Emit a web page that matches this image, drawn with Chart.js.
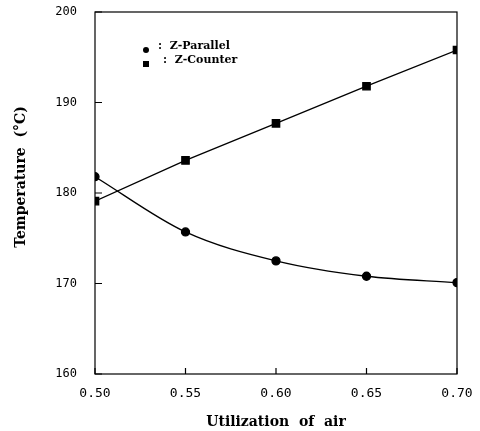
<!DOCTYPE html>
<html>
<head>
<meta charset="utf-8">
<script src="https://cdn.jsdelivr.net/npm/chart.js@4.4.0/dist/chart.umd.min.js"></script>
<style>
  html, body { margin: 0; padding: 0; background: #fff; }
  #wrap { width: 480px; height: 431px; position: relative; }
</style>
</head>
<body>
<div id="wrap"><canvas id="myChart"></canvas></div>
<script>
// Utilization of air (x) and temperature readings (y)
const utilization = [0.50, 0.55, 0.60, 0.65, 0.70];
const zParallel = [181.8, 175.7, 172.5, 170.8, 170.1];
const zCounter = [179.1, 183.6, 187.7, 191.8, 195.8];
const seriesNames = ['Z-Parallel', 'Z-Counter'];
const yTitle = 'Temperature  (°C)';

const monoFont = "'DejaVu Sans Mono', monospace";
const serifFont = "'DejaVu Serif', serif";

function toPoints(values) {
    return utilization.map((u, i) => ({ x: u, y: values[i] }));
}

// draws the little inward tick marks, the box, the y title and the legend
const framePlugin = {
    id: 'frame',
    afterDraw(chart) {
        const ctx = chart.ctx;
        const area = chart.chartArea;
        const xs = chart.scales.x;
        const ys = chart.scales.y;
        ctx.save();
        ctx.strokeStyle = '#000';
        ctx.lineWidth = 1.2;
        ctx.strokeRect(area.left, area.top, area.right - area.left, area.bottom - area.top);

        ctx.beginPath();
        xs.ticks.forEach(t => {
            const px = xs.getPixelForValue(t.value);
            ctx.moveTo(px, area.bottom);
            ctx.lineTo(px, area.bottom - 6);
        });
        ys.ticks.forEach(t => {
            const py = ys.getPixelForValue(t.value);
            ctx.moveTo(area.left, py);
            ctx.lineTo(area.left + 7, py);
        });
        ctx.stroke();

        // y axis title, sitting a little above the middle like the original
        ctx.fillStyle = '#000';
        ctx.save();
        ctx.translate(21, (area.top + area.bottom) / 2 - 16);
        ctx.rotate(-Math.PI / 2);
        ctx.font = "bold 14px " + serifFont;
        ctx.textAlign = 'center';
        ctx.textBaseline = 'middle';
        ctx.fillText(yTitle, 0, 0);
        ctx.restore();

        // legend
        const lx = area.left + 51;
        const rows = [
            { y: area.top + 38, style: 'circle', label: ':  Z-Parallel', tx: lx + 12 },
            { y: area.top + 52, style: 'rect', label: ':  Z-Counter', tx: lx + 17 }
        ];
        ctx.font = "bold 11px " + serifFont;
        ctx.textBaseline = 'middle';
        rows.forEach(r => {
            ctx.beginPath();
            if (r.style === 'circle') {
                ctx.arc(lx, r.y, 3, 0, Math.PI * 2);
            } else {
                ctx.rect(lx - 3, r.y - 3, 6, 6);
            }
            ctx.fill();
            ctx.fillText(r.label, r.tx, r.y - 4);
        });
        ctx.restore();
    }
};

const data = {
    datasets: [{
        label: seriesNames[0],
        data: toPoints(zParallel),
        borderColor: '#000',
        backgroundColor: '#000',
        borderWidth: 1.3,
        pointStyle: 'circle',
        pointRadius: 4,
        cubicInterpolationMode: 'monotone'
    }, {
        label: seriesNames[1],
        data: toPoints(zCounter),
        borderColor: '#000',
        backgroundColor: '#000',
        borderWidth: 1.3,
        pointStyle: 'rect',
        pointRadius: 5.2,
        tension: 0
    }]
};

const config = {
    type: 'line',
    data: data,
    options: {
        responsive: false,
        animation: false,
        layout: { padding: { top: 12, right: 23, left: 0, bottom: 0 } },
        plugins: {
            legend: { display: false },
            tooltip: { enabled: false }
        },
        scales: {
            x: {
                type: 'linear',
                min: 0.5,
                max: 0.7,
                ticks: {
                    stepSize: 0.05,
                    color: '#000',
                    padding: 4,
                    font: { family: monoFont, size: 13 },
                    callback: v => v.toFixed(2)
                },
                grid: { display: false },
                border: { display: false },
                title: {
                    display: true,
                    text: 'Utilization  of  air',
                    color: '#000',
                    font: { family: serifFont, size: 14, weight: 'bold' },
                    padding: { top: 16, bottom: 0 }
                },
                afterFit(scale) {
                    scale.height = 57;
                    scale.paddingLeft = 0;
                    scale.paddingRight = 0;
                }
            },
            y: {
                min: 160,
                max: 200,
                ticks: {
                    stepSize: 10,
                    color: '#000',
                    padding: 10,
                    font: { family: monoFont, size: 12 }
                },
                grid: { display: false },
                border: { display: false },
                afterFit(scale) {
                    scale.width = 95;
                    scale.paddingTop = 0;
                    scale.paddingBottom = 0;
                }
            }
        }
    },
    plugins: [framePlugin]
};

const canvas = document.getElementById('myChart');
canvas.width = 480;
canvas.height = 431;
const chart = new Chart(canvas, config);
</script>
</body>
</html>
